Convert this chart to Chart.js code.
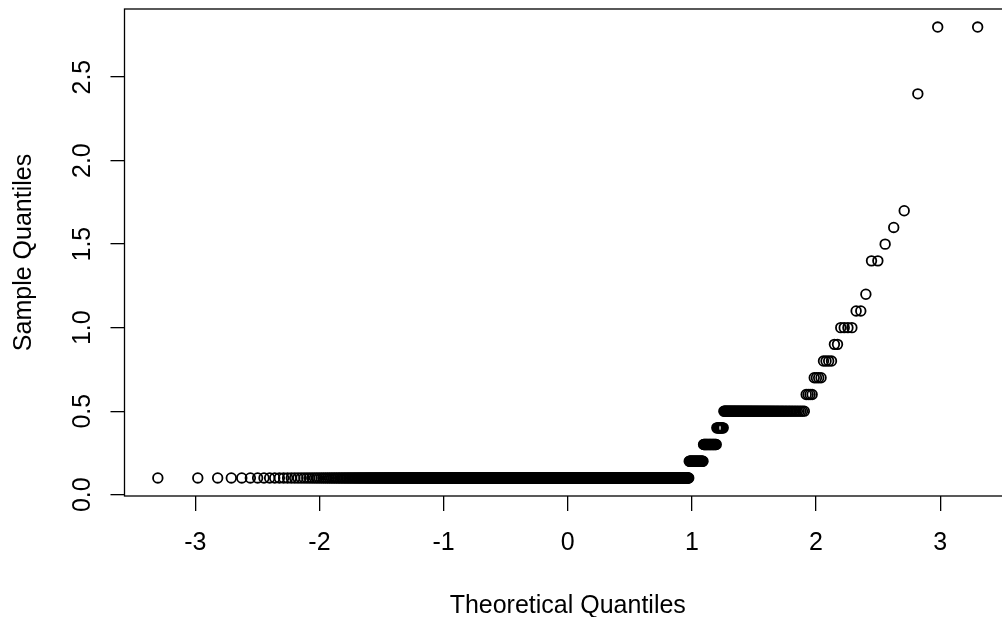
<!DOCTYPE html>
<html lang="en">

<head>
    <meta charset="UTF-8">
    <title>Normal Q-Q Plot</title>
    <style>
        body {
            margin: 0;
            overflow: hidden;
            background: #ffffff;
        }

        #chart-container {
            width: 1020px;
            height: 617px;
        }
    </style>
</head>

<body>
    <div id="chart-container">
        <canvas id="qqChart" width="1020" height="617"></canvas>
    </div>

    <script src="https://cdn.jsdelivr.net/npm/chart.js"></script>
    <script>
        // sorted sample: each distinct value and how many times it occurs
        const sampleValues = [0.1, 0.2, 0.3, 0.4, 0.5, 0.6, 0.7, 0.8, 0.9, 1.0, 1.1, 1.2, 1.4, 1.5, 1.6, 1.7, 2.4, 2.8];
        const sampleCounts = [869, 28, 23, 11, 80, 4, 4, 4, 2, 4, 2, 1, 2, 1, 1, 1, 1, 2];

        // axis ticks
        const xTickValues = [-3, -2, -1, 0, 1, 2, 3];
        const yTickValues = [0.0, 0.5, 1.0, 1.5, 2.0, 2.5];

        // axis limits (R adds 4% on each side)
        const xLimits = [-3.57, 3.57];
        const yLimits = [-0.008, 2.908];

        // inverse normal CDF (Acklam)
        function qnorm(p) {
            const a = [-3.969683028665376e+01, 2.209460984245205e+02, -2.759285104469687e+02, 1.383577518672690e+02, -3.066479806614716e+01, 2.506628277459239e+00];
            const b = [-5.447609879822406e+01, 1.615858368580409e+02, -1.556989798598866e+02, 6.680131188771972e+01, -1.328068155288572e+01];
            const c = [-7.784894002430293e-03, -3.223964580411365e-01, -2.400758277161838e+00, -2.549732539343734e+00, 4.374664141464968e+00, 2.938163982698783e+00];
            const d = [7.784695709041462e-03, 3.224671290700398e-01, 2.445134137142996e+00, 3.754408661907416e+00];
            const pl = 0.02425;
            if (p < pl) {
                const q = Math.sqrt(-2 * Math.log(p));
                return (((((c[0] * q + c[1]) * q + c[2]) * q + c[3]) * q + c[4]) * q + c[5]) /
                    ((((d[0] * q + d[1]) * q + d[2]) * q + d[3]) * q + 1);
            }
            if (p > 1 - pl) {
                const q = Math.sqrt(-2 * Math.log(1 - p));
                return -(((((c[0] * q + c[1]) * q + c[2]) * q + c[3]) * q + c[4]) * q + c[5]) /
                    ((((d[0] * q + d[1]) * q + d[2]) * q + d[3]) * q + 1);
            }
            const q = p - 0.5, r = q * q;
            return (((((a[0] * r + a[1]) * r + a[2]) * r + a[3]) * r + a[4]) * r + a[5]) * q /
                (((((b[0] * r + b[1]) * r + b[2]) * r + b[3]) * r + b[4]) * r + 1);
        }

        // build the qq points: sample quantile vs theoretical quantile of its rank
        function buildPoints() {
            const n = sampleCounts.reduce((s, c) => s + c, 0);
            const pts = [];
            let i = 0;
            sampleValues.forEach((v, k) => {
                for (let j = 0; j < sampleCounts[k]; j++) {
                    i++;
                    pts.push({ x: qnorm((i - 0.5) / n), y: v });
                }
            });
            return pts;
        }

        // R style box round the plot region
        const boxPlugin = {
            id: 'box',
            afterDatasetsDraw(chart) {
                const { ctx, chartArea } = chart;
                ctx.save();
                ctx.strokeStyle = '#000';
                ctx.lineWidth = 1.3;
                ctx.strokeRect(chartArea.left, chartArea.top, chartArea.right - chartArea.left, chartArea.bottom - chartArea.top);
                ctx.restore();
            }
        };

        const fontFamily = "'Liberation Sans', Arial, sans-serif";

        new Chart(document.getElementById('qqChart').getContext('2d'), {
            type: 'scatter',
            data: {
                datasets: [{
                    data: buildPoints(),
                    pointStyle: 'circle',
                    pointRadius: 4.8,
                    pointBorderWidth: 1.8,
                    borderColor: '#000',
                    backgroundColor: 'rgba(0,0,0,0)',
                    pointHoverRadius: 4.8
                }]
            },
            options: {
                responsive: false,
                animation: false,
                devicePixelRatio: 1,
                layout: { padding: { left: 0, top: 9, right: 9, bottom: 0 } },
                plugins: { legend: { display: false }, tooltip: { enabled: false } },
                scales: {
                    x: {
                        type: 'linear',
                        min: xLimits[0],
                        max: xLimits[1],
                        afterBuildTicks: (scale) => { scale.ticks = xTickValues.map(v => ({ value: v })); },
                        afterFit: (scale) => {
                            scale.height = 121;
                            scale.paddingLeft = 0;
                            scale.paddingRight = 0;
                        },
                        grid: { display: true, drawOnChartArea: false, drawTicks: true, tickLength: 15, color: '#000', lineWidth: 1.3 },
                        border: { display: false },
                        ticks: {
                            color: '#000',
                            font: { family: fontFamily, size: 25 },
                            padding: 17,
                            maxRotation: 0,
                            callback: (v) => String(v)
                        },
                        title: {
                            display: true,
                            text: 'Theoretical Quantiles',
                            color: '#000',
                            font: { family: fontFamily, size: 25, lineHeight: 1 },
                            padding: { top: 0, bottom: -2 }
                        }
                    },
                    y: {
                        type: 'linear',
                        min: yLimits[0],
                        max: yLimits[1],
                        afterBuildTicks: (scale) => { scale.ticks = yTickValues.map(v => ({ value: v })); },
                        afterFit: (scale) => {
                            scale.width = 124.5;
                            scale.paddingTop = 0;
                            scale.paddingBottom = 0;
                        },
                        grid: { display: true, drawOnChartArea: false, drawTicks: true, tickLength: 14, color: '#000', lineWidth: 1.3 },
                        border: { display: false },
                        ticks: {
                            color: '#000',
                            font: { family: fontFamily, size: 25 },
                            minRotation: 90,
                            maxRotation: 90,
                            crossAlign: 'center',
                            padding: 10,
                            callback: (v) => Number(v).toFixed(1)
                        },
                        title: {
                            display: true,
                            text: 'Sample Quantiles',
                            color: '#000',
                            font: { family: fontFamily, size: 25, lineHeight: 1 },
                            padding: { top: 12, bottom: 0 }
                        }
                    }
                }
            },
            plugins: [boxPlugin]
        });
    </script>
</body>

</html>
